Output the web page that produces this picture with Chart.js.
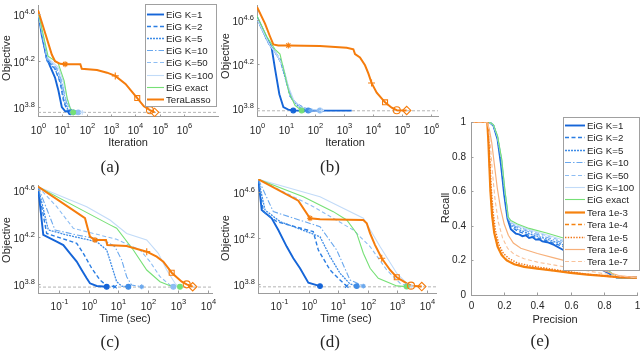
<!DOCTYPE html>
<html>
<head>
<meta charset="utf-8">
<title>EiG vs TeraLasso</title>
<script src="https://cdn.jsdelivr.net/npm/chart.js@4.4.1/dist/chart.umd.min.js"></script>
<style>
  body { margin: 0; background: #fff; }
  #fig { position: relative; width: 640px; height: 353px; overflow: hidden; background: #fff; }
  #fig canvas { position: absolute; left: 0; top: 0; }
</style>
</head>
<body>
<div id="fig">
  <canvas id="chart-a" width="640" height="353"></canvas>
  <canvas id="chart-b" width="640" height="353"></canvas>
  <canvas id="chart-c" width="640" height="353"></canvas>
  <canvas id="chart-d" width="640" height="353"></canvas>
  <canvas id="chart-e" width="640" height="353"></canvas>
</div>
<script>
// tick labels
const iterTickExp = ['0', '1', '2', '3', '4', '5', '6'];
const timeTickExp = ['-1', '0', '1', '2', '3', '4'];
const objTickExp = ['3.8', '4.2', '4.6'];
const prTicks = [0, 0.2, 0.4, 0.6, 0.8, 1];
const prTickText = ['0', '0.2', '0.4', '0.6', '0.8', '1'];

const eigNames = ['EiG K=1', 'EiG K=2', 'EiG K=5', 'EiG K=10', 'EiG K=50', 'EiG K=100', 'EiG exact'];
const teraNames = ['Tera 1e-3', 'Tera 1e-4', 'Tera 1e-5', 'Tera 1e-6', 'Tera 1e-7'];

// axis limits
const aXRange = [1, 2.5e7], aYRange = [5200, 47400];
const bXRange = [1, 1.74e6], bYRange = [5230, 54700];
const cXRange = [0.0202, 13930], cYRange = [5290, 43900];
const dXRange = [0.0194, 20900], dYRange = [5270, 51200];

// optimal objective (gray dashed line) for a, b, c, d
const optObjective = [5700, 5960, 5940, 5960];

// (a) objective vs iteration
const a_tera = [[1,43000],[1.42,34100],[2.29,24700],[3.68,17900],[5,15700],[8.1,14900],[13,14800],[55,14800],[63,13500],[265,13200],[690,12500],[1500,11730],[3950,10000],[7500,8490],[12000,7560],[22500,6430],[40000,5950],[62000,5700]];
const a_teraMarks = [[13,14800],[1500,11730],[12000,7560],[40000,5950],[62000,5700]];
const a_k1 = [[1,43000],[1.42,26400],[2.29,16750],[3.13,14250],[5,11350],[6.9,8770],[9.5,6330],[13,5840],[22,5700]];
const a_k2 = [[1,42000],[2.29,16200],[5,13500],[8.1,10300],[11.1,7230],[15.3,5950],[33,5700]];
const a_k5 = [[1,41500],[2.35,15700],[5,13440],[8.5,10500],[11.9,7100],[17.4,5950],[28,5700]];
const a_k10 = [[1,41500],[2.59,16300],[5.55,13800],[9.35,10640],[13,7520],[19.1,5950],[33.8,5700]];
const a_k50 = [[1,41000],[2.35,16300],[6.1,13700],[9.8,10230],[14.3,7230],[21,5950],[45,5700]];
const a_k100 = [[1,41000],[2.59,16630],[6.7,13960],[10.8,10640],[15.8,7520],[23,5950],[66,5700]];
const a_exact = [[1,42000],[2.59,17300],[6.7,15100],[11.9,10640],[15.8,7520],[21,6190],[28,5700]];
const a_eigMarks = [[22,5700],[33,5700],[28,5700],[24,5700],[45,5700],[66,5700],[28,5700]];

// (b) objective vs iteration
const b_tera = [[1,52800],[1.89,37200],[2.81,28400],[3.65,24000],[5.4,23500],[12,23500],[148,23200],[1240,22400],[2100,21700],[2400,19600],[3550,18300],[5300,15500],[6900,13060],[8900,10700],[13400,8730],[26000,7120],[44000,6360],[66000,6030],[145000,6000]];
const b_teraMarks = [[12,23500],[8900,10700],[26000,7120],[66000,6030],[145000,6000]];
const b_k1 = [[1,42700],[2.16,27500],[3.2,22400],[4.17,14450],[5.9,8450],[8.1,6440],[12,6110],[17.8,6000],[1840,5980]];
const b_k2 = [[1,41200],[2.45,24800],[3.65,21700],[6.2,17700],[9.2,12650],[13.7,8160],[23.4,6900],[40,6360],[67,6000]];
const b_k5 = [[1,41200],[2.45,24800],[4,21000],[6.6,16550],[9.8,11420],[14.5,7880],[26.6,6530],[58.5,6000]];
const b_k10 = [[1,41200],[2.66,24000],[4.17,20280],[7.1,16000],[10.6,11040],[15.7,7780],[30.4,6440],[88,6000]];
const b_k50 = [[1,41200],[2.81,23500],[4.5,20000],[7.7,15500],[11.1,10330],[17.8,7370],[34.6,6360],[148,6000]];
const b_k100 = [[1,41200],[2.81,23500],[4.77,19600],[8.1,14960],[12,10000],[18.9,7370],[40,6200],[170,6000]];
const b_exact = [[1,44000],[2.16,28400],[4.17,21700],[6.2,19600],[9.2,12650],[12.7,8730],[20.5,6670],[34.6,6000]];
const b_eigMarks = [[17.8,6000],[40,6000],[58.5,6000],[70,6000],[148,6000],[170,6000],[34.6,6000]];

// (c) objective vs time
const c_tera = [[0.0202,42500],[0.763,22900],[0.91,19400],[1.12,15950],[1.65,14940],[3.86,14940],[4.27,13540],[19.1,13270],[69,12100],[90,11890],[194,10770],[324,9780],[475,8600],[619,7870],[1342,6600],[1975,6270],[3140,5980]];
const c_teraMarks = [[1.65,14940],[90,11890],[619,7870],[1975,6270],[3140,5980]];
const c_k1 = [[0.0202,42500],[0.0304,16500],[0.0857,14450],[0.143,13540],[0.239,11510],[0.402,9780],[0.59,8300],[0.87,7060],[1.12,6400],[1.88,6070],[4.08,5980]];
const c_k2 = [[0.0202,42500],[0.0395,17000],[0.185,14940],[0.402,14000],[0.67,11510],[1.28,8600],[2.43,6820],[4.08,6110],[7.75,5980]];
const c_k5 = [[0.0202,42500],[0.0448,18200],[0.185,16500],[1.88,14450],[4.08,12290],[6.0,9000],[8.8,6600],[13,6050],[21.7,5980]];
const c_k10 = [[0.0202,42500],[0.075,18200],[0.402,16500],[3.14,14940],[7.75,13100],[13,10090],[19.1,7280],[28,6180],[61,5980]];
const c_k50 = [[0.0202,42500],[0.0857,28700],[0.309,18800],[1.45,17000],[8.8,15140],[53.5,12290],[116,9780],[251,7280],[543,6180],[702,5980]];
const c_k100 = [[0.0202,42500],[0.87,28700],[5.26,22100],[19.1,17000],[89.8,14940],[220,11510],[421,8300],[800,6400],[1030,5980]];
const c_exact = [[0.0202,42500],[5.26,20100],[8.8,18800],[31.9,12290],[89.8,8300],[251,6600],[543,6110],[1175,5980]];
const c_eigMarks = [[4.08,5980],[7.75,5980],[21.7,5980],[61,5980],[702,5980],[1030,5980],[1175,5980]];

// (d) objective vs time
const d_tera = [[0.0199,50900],[0.451,33200],[1.12,23400],[2.45,22900],[72,22600],[94,21200],[122,17300],[180,13700],[303,10540],[579,8340],[977,7210],[2130,6400],[2980,6100],[6880,5990]];
const d_teraMarks = [[1.12,23400],[303,10540],[977,7210],[2980,6100],[6880,5990]];
const d_k1 = [[0.0199,50900],[0.0259,27600],[0.0566,23400],[0.0947,18500],[0.182,13300],[0.305,10540],[0.515,8630],[0.985,6480],[2.45,6050]];
const d_k2 = [[0.0199,50900],[0.0294,26700],[0.0836,21900],[1.45,17900],[2.15,12400],[5.36,8340],[11.7,6830],[19.7,6050]];
const d_k5 = [[0.0199,50900],[0.0335,27600],[0.108,21900],[2.45,16200],[5.36,10900],[11.7,7810],[25.5,6310],[43,6050]];
const d_k10 = [[0.0199,50900],[0.0641,26700],[2.45,19800],[9.04,12400],[25.5,6830],[72,6050]];
const d_k50 = [[0.0199,50900],[1.45,29500],[33,18500],[122,13300],[448,8340],[1265,6400],[2130,6050]];
const d_k100 = [[0.0199,50900],[2.45,36000],[72,23400],[265,13300],[977,7810],[2130,6400],[3160,6050]];
const d_exact = [[0.0199,50900],[0.667,36000],[6.9,26700],[19.7,22600],[43,17300],[72,11640],[122,8630],[232,7070],[977,6070],[2130,5990]];
const d_eigMarks = [[2.45,6050],[19.7,6050],[43,6050],[72,6050],[2130,6050],[3160,6050],[2130,5990]];

// (e) recall vs precision
const e_k1 = [[0,1],[0.11,1],[0.135,0.98],[0.16,0.9],[0.18,0.76],[0.2,0.58],[0.22,0.44],[0.24,0.38],[0.27,0.355],[0.29,0.35],[0.31,0.34],[0.33,0.345],[0.35,0.33],[0.37,0.335],[0.39,0.32],[0.41,0.322],[0.43,0.31],[0.46,0.305],[0.5,0.29],[0.556,0.26],[0.7,0.19],[0.8,0.14],[0.88,0.1],[1,0.1]];
const e_k2 = [[0,1],[0.11,1],[0.135,0.98],[0.16,0.905],[0.182,0.77],[0.202,0.59],[0.222,0.445],[0.24,0.395],[0.28,0.37],[0.35,0.345],[0.45,0.315],[0.556,0.28],[0.7,0.205],[0.8,0.15],[0.88,0.1],[1,0.1]];
const e_k5 = [[0,1],[0.11,1],[0.135,0.98],[0.16,0.91],[0.183,0.775],[0.203,0.595],[0.223,0.445],[0.24,0.405],[0.28,0.38],[0.35,0.355],[0.45,0.325],[0.556,0.29],[0.7,0.21],[0.8,0.152],[0.88,0.1],[1,0.1]];
const e_k10 = [[0,1],[0.11,1],[0.135,0.982],[0.16,0.912],[0.184,0.78],[0.204,0.6],[0.224,0.447],[0.24,0.412],[0.28,0.39],[0.35,0.365],[0.45,0.335],[0.556,0.3],[0.7,0.22],[0.8,0.155],[0.88,0.1],[1,0.1]];
const e_k50 = [[0,1],[0.11,1],[0.135,0.983],[0.16,0.915],[0.184,0.782],[0.204,0.6],[0.224,0.447],[0.24,0.418],[0.28,0.397],[0.35,0.372],[0.45,0.345],[0.556,0.31],[0.7,0.225],[0.8,0.157],[0.88,0.1],[1,0.1]];
const e_k100 = [[0,1],[0.11,1],[0.135,0.984],[0.16,0.917],[0.185,0.783],[0.205,0.6],[0.225,0.448],[0.24,0.422],[0.28,0.403],[0.35,0.378],[0.45,0.35],[0.556,0.318],[0.7,0.232],[0.8,0.16],[0.88,0.1],[1,0.1]];
const e_exact = [[0,1],[0.11,1],[0.135,0.985],[0.16,0.92],[0.185,0.785],[0.205,0.6],[0.225,0.45],[0.24,0.43],[0.28,0.41],[0.35,0.385],[0.45,0.36],[0.556,0.33],[0.7,0.24],[0.8,0.165],[0.88,0.1],[1,0.1]];
const e_t3 = [[0,1],[0.098,1],[0.104,0.9],[0.11,0.76],[0.117,0.6],[0.127,0.46],[0.14,0.36],[0.16,0.28],[0.185,0.23],[0.215,0.2],[0.26,0.178],[0.32,0.163],[0.4,0.152],[0.5,0.14],[0.6,0.128],[0.7,0.118],[0.8,0.11],[0.9,0.102],[1,0.1]];
const e_t4 = [[0,1],[0.099,1],[0.105,0.9],[0.111,0.76],[0.118,0.6],[0.128,0.46],[0.141,0.36],[0.161,0.28],[0.186,0.232],[0.216,0.202],[0.26,0.18],[0.32,0.165],[0.4,0.153],[0.5,0.141],[0.6,0.129],[0.7,0.119],[0.8,0.11],[0.9,0.102],[1,0.1]];
const e_t5 = [[0,1],[0.1,1],[0.107,0.9],[0.114,0.77],[0.122,0.62],[0.133,0.48],[0.148,0.37],[0.168,0.29],[0.195,0.24],[0.23,0.21],[0.28,0.185],[0.35,0.17],[0.45,0.155],[0.55,0.14],[0.7,0.12],[0.85,0.107],[1,0.1]];
const e_t6 = [[0,1],[0.095,1],[0.11,0.96],[0.125,0.88],[0.14,0.76],[0.158,0.62],[0.178,0.5],[0.2,0.41],[0.225,0.345],[0.255,0.3],[0.3,0.27],[0.4,0.24],[0.5,0.215],[0.6,0.19],[0.7,0.165],[0.8,0.14],[0.9,0.11],[1,0.1]];
const e_t7 = [[0,1],[0.1,1],[0.108,0.95],[0.118,0.85],[0.13,0.7],[0.145,0.55],[0.165,0.42],[0.19,0.33],[0.22,0.27],[0.26,0.235],[0.32,0.21],[0.4,0.19],[0.55,0.165],[0.7,0.14],[0.85,0.115],[1,0.1]];

// ---- styles ----
const FONT = '"Liberation Sans", Arial, Helvetica, sans-serif';
const SERIF = '"Liberation Serif", "Times New Roman", serif';
const TEXT_COLOR = '#262626';
const AXIS_COLOR = '#9c9c9c';

const eigStyle = [
  { color: '#1565d8', width: 1.9, dash: [] },
  { color: '#2a7de2', width: 1.4, dash: [4, 2.5] },
  { color: '#3f8ce6', width: 1.3, dash: [2, 1] },
  { color: '#6aa8ee', width: 1.1, dash: [6, 2, 1.5, 2] },
  { color: '#8dbdf3', width: 1.1, dash: [4, 2.5] },
  { color: '#c2dbf8', width: 1.1, dash: [] },
  { color: '#76e076', width: 1.1, dash: [] }
];
const teraMain = { color: '#f57c0c', width: 2, dash: [] };
const teraStyle = [
  { color: '#f5820f', width: 2.2, dash: [] },
  { color: '#f5820f', width: 1.4, dash: [4, 2.5] },
  { color: '#f07414', width: 1.4, dash: [1.4, 1.4] },
  { color: '#f7b07a', width: 1.2, dash: [] },
  { color: '#f9c29a', width: 1.1, dash: [4, 2.5] }
];
const eigMarkStyle = ['circle', 'crossRot', 'circle', 'star', 'circle', 'cross', 'circle'];
const teraMarkStyle = ['star', 'cross', 'rect', 'circle', 'rectRot'];

function pts(arr) {
  return arr.map(p => ({ x: p[0], y: p[1] }));
}

function lineSet(arr, label, st, rank) {
  return {
    label: label,
    data: pts(arr),
    borderColor: st.color,
    borderWidth: st.width,
    borderDash: st.dash,
    pointRadius: 0,
    fill: false,
    legendRank: rank
  };
}

// datasets for an objective panel; first dataset is drawn on top
function objectiveSets(eigList, eigMarks, tera, teraMarks, opt, xRange) {
  const sets = [];
  sets.push({
    data: pts(teraMarks), showLine: false,
    pointStyle: teraMarkStyle, pointRadius: [3, 3.5, 3.5, 3.5, 4.2],
    pointBorderColor: teraMain.color, pointBackgroundColor: 'rgba(0,0,0,0)', pointBorderWidth: 1.1
  });
  sets.push({
    data: pts(eigMarks), showLine: false,
    pointStyle: eigMarkStyle, pointRadius: 2.4,
    pointBorderColor: eigStyle.map(s => s.color), pointBackgroundColor: eigStyle.map(s => s.color), pointBorderWidth: 1.1
  });
  sets.push(lineSet(tera, 'TeraLasso', teraMain, 7));
  for (let i = eigList.length - 1; i >= 0; i--) {
    sets.push(lineSet(eigList[i], eigNames[i], eigStyle[i], i));
  }
  sets.push({
    data: [{ x: xRange[0], y: opt }, { x: xRange[1], y: opt }],
    borderColor: '#b4b4b4', borderWidth: 1, borderDash: [3, 2], pointRadius: 0
  });
  return sets;
}

function powLabel(ctx, exp, x, y, align) {
  ctx.font = '10px ' + FONT;
  const wb = ctx.measureText('10').width;
  ctx.font = '7.5px ' + FONT;
  const we = ctx.measureText(exp).width;
  const left = align === 'right' ? x - wb - we : x - (wb + we) / 2;
  ctx.textAlign = 'left';
  ctx.textBaseline = 'alphabetic';
  ctx.font = '10px ' + FONT;
  ctx.fillText('10', left, y + 4.6);
  ctx.font = '7.5px ' + FONT;
  ctx.fillText(exp, left + wb, y - 1);
}

function plainLabel(ctx, text, x, y, align) {
  ctx.font = '10px ' + FONT;
  ctx.textAlign = align;
  ctx.textBaseline = 'middle';
  ctx.fillText(text, x, y);
}

function drawLegend(chart, L) {
  const ctx = chart.ctx;
  const items = chart.data.datasets
    .filter(d => d.legendRank !== undefined)
    .sort((p, q) => p.legendRank - q.legendRank);
  ctx.fillStyle = '#fff';
  ctx.fillRect(L.x, L.y, L.w, L.h);
  ctx.strokeStyle = '#a0a0a0';
  ctx.lineWidth = 1;
  ctx.strokeRect(L.x + 0.5, L.y + 0.5, L.w, L.h);
  items.forEach((d, i) => {
    const y = Math.round(L.first + i * L.step) + 0.5;
    ctx.beginPath();
    ctx.setLineDash(d.borderDash || []);
    ctx.strokeStyle = d.borderColor;
    ctx.lineWidth = d.borderWidth;
    ctx.moveTo(L.x + 2, y);
    ctx.lineTo(L.x + 2 + L.sample, y);
    ctx.stroke();
    ctx.setLineDash([]);
    ctx.fillStyle = TEXT_COLOR;
    ctx.font = '9.7px ' + FONT;
    ctx.textAlign = 'left';
    ctx.textBaseline = 'middle';
    ctx.fillText(d.label, L.x + L.sample + 4, y + 0.5);
  });
}

const decor = {
  id: 'decor',
  afterDraw(chart, args, o) {
    const ctx = chart.ctx;
    const xs = chart.scales.x, ys = chart.scales.y;
    const area = chart.chartArea;
    ctx.save();
    ctx.strokeStyle = AXIS_COLOR;
    ctx.fillStyle = TEXT_COLOR;
    ctx.lineWidth = 1;
    o.xTicks.forEach((v, i) => {
      const px = Math.round(xs.getPixelForValue(v)) + 0.5;
      ctx.strokeStyle = AXIS_COLOR;
      ctx.beginPath(); ctx.moveTo(px, area.bottom); ctx.lineTo(px, area.bottom - 2.5); ctx.stroke();
      if (o.pow) powLabel(ctx, o.xText[i], px, area.bottom + 12.3, 'center');
      else plainLabel(ctx, o.xText[i], px, area.bottom + 11, 'center');
    });
    o.yTicks.forEach((v, i) => {
      const py = Math.round(ys.getPixelForValue(v)) + 0.5;
      ctx.strokeStyle = AXIS_COLOR;
      ctx.beginPath(); ctx.moveTo(area.left, py); ctx.lineTo(area.left + 2.5, py); ctx.stroke();
      if (o.pow) powLabel(ctx, o.yText[i], area.left - 3, py, 'right');
      else plainLabel(ctx, o.yText[i], area.left - 5, py, 'right');
    });
    // axis titles
    ctx.font = '11px ' + FONT;
    ctx.textAlign = 'center';
    ctx.textBaseline = 'middle';
    ctx.fillText(o.xTitle, o.xTitleAt[0], o.xTitleAt[1]);
    ctx.save();
    ctx.translate(o.yTitleAt[0], o.yTitleAt[1]);
    ctx.rotate(-Math.PI / 2);
    ctx.fillText(o.yTitle, 0, 0);
    ctx.restore();
    // panel tag
    ctx.font = '17px ' + SERIF;
    ctx.fillText(o.tag, o.tagAt[0], o.tagAt[1]);
    if (o.legend) drawLegend(chart, o.legend);
    ctx.restore();
  }
};

function makeChart(id, area, xType, xRange, yType, yRange, datasets, deco) {
  return new Chart(document.getElementById(id), {
    type: 'line',
    data: { datasets: datasets },
    options: {
      responsive: false,
      animation: false,
      events: [],
      layout: { padding: { left: area[0], top: area[1], right: 640 - area[2], bottom: 353 - area[3] } },
      plugins: { legend: { display: false }, tooltip: { enabled: false }, decor: deco },
      scales: {
        x: {
          type: xType, min: xRange[0], max: xRange[1], position: 'bottom',
          ticks: { display: false }, grid: { display: false },
          border: { color: AXIS_COLOR, width: 1 },
          afterFit: s => { s.height = 0; }
        },
        y: {
          type: yType, min: yRange[0], max: yRange[1], position: 'left',
          ticks: { display: false }, grid: { display: false },
          border: { color: AXIS_COLOR, width: 1 },
          afterFit: s => { s.width = 0; }
        }
      }
    },
    plugins: [decor]
  });
}

const iterTicks = iterTickExp.map(e => Math.pow(10, parseFloat(e)));
const timeTicks = timeTickExp.map(e => Math.pow(10, parseFloat(e)));
const objTicks = objTickExp.map(e => Math.pow(10, parseFloat(e)));

makeChart('chart-a', [38, 3, 218, 117], 'logarithmic', aXRange, 'logarithmic', aYRange,
  objectiveSets([a_k1, a_k2, a_k5, a_k10, a_k50, a_k100, a_exact], a_eigMarks, a_tera, a_teraMarks, optObjective[0], aXRange),
  { pow: true, xTicks: iterTicks, xText: iterTickExp, yTicks: objTicks, yText: objTickExp,
    xTitle: 'Iteration', xTitleAt: [128, 143], yTitle: 'Objective', yTitleAt: [7, 58],
    tag: '(a)', tagAt: [110, 168],
    legend: { x: 145, y: 4, w: 71, h: 102, first: 14, step: 12.1, sample: 17 } });

makeChart('chart-b', [257, 1, 438, 117], 'logarithmic', bXRange, 'logarithmic', bYRange,
  objectiveSets([b_k1, b_k2, b_k5, b_k10, b_k50, b_k100, b_exact], b_eigMarks, b_tera, b_teraMarks, optObjective[1], bXRange),
  { pow: true, xTicks: iterTicks, xText: iterTickExp, yTicks: objTicks, yText: objTickExp,
    xTitle: 'Iteration', xTitleAt: [345, 143], yTitle: 'Objective', yTitleAt: [226, 56],
    tag: '(b)', tagAt: [330, 168] });

makeChart('chart-c', [38, 185, 212, 293], 'logarithmic', cXRange, 'logarithmic', cYRange,
  objectiveSets([c_k1, c_k2, c_k5, c_k10, c_k50, c_k100, c_exact], c_eigMarks, c_tera, c_teraMarks, optObjective[2], cXRange),
  { pow: true, xTicks: timeTicks, xText: timeTickExp, yTicks: objTicks, yText: objTickExp,
    xTitle: 'Time (sec)', xTitleAt: [125, 318.5], yTitle: 'Objective', yTitleAt: [7, 240],
    tag: '(c)', tagAt: [110, 343] });

makeChart('chart-d', [258, 179, 436, 293], 'logarithmic', dXRange, 'logarithmic', dYRange,
  objectiveSets([d_k1, d_k2, d_k5, d_k10, d_k50, d_k100, d_exact], d_eigMarks, d_tera, d_teraMarks, optObjective[3], dXRange),
  { pow: true, xTicks: timeTicks, xText: timeTickExp, yTicks: objTicks, yText: objTickExp,
    xTitle: 'Time (sec)', xTitleAt: [346, 318.5], yTitle: 'Objective', yTitleAt: [226, 238],
    tag: '(d)', tagAt: [330, 343] });

// (e): EiG first, Tera drawn on top
const eSets = [];
const teraE = [e_t3, e_t4, e_t5, e_t6, e_t7];
for (let i = teraE.length - 1; i >= 0; i--) {
  eSets.push(lineSet(teraE[i], teraNames[i], teraStyle[i], 7 + i));
}
const eigE = [e_k1, e_k2, e_k5, e_k10, e_k50, e_k100, e_exact];
for (let i = eigE.length - 1; i >= 0; i--) {
  eSets.push(lineSet(eigE[i], eigNames[i], eigStyle[i], i));
}

makeChart('chart-e', [471, 122, 637, 295], 'linear', [0, 1], 'linear', [0, 1], eSets,
  { pow: false, xTicks: prTicks, xText: prTickText, yTicks: prTicks, yText: prTickText,
    xTitle: 'Precision', xTitleAt: [555, 320], yTitle: 'Recall', yTitleAt: [446, 208],
    tag: '(e)', tagAt: [540, 342],
    legend: { x: 563, y: 117, w: 76, h: 153, first: 125, step: 12.4, sample: 20 } });
</script>
</body>
</html>
